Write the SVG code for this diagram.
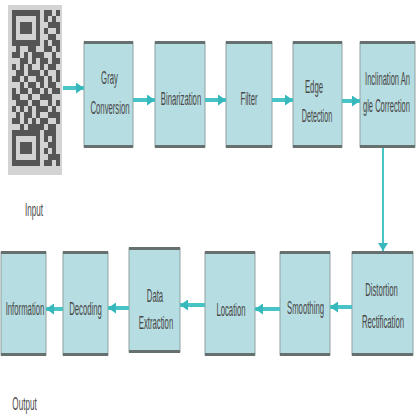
<svg xmlns="http://www.w3.org/2000/svg" width="416" height="416" viewBox="0 0 416 416">
<style>
.box{fill:#b6dde1;stroke:#8fa0a0;stroke-width:1}
.bar{fill:#66706f}
.t{font-family:"Liberation Sans",Arial,sans-serif;font-size:18px;fill:#474747;text-anchor:middle}
.arr{stroke:#48c4c7;stroke-width:4;fill:none;marker-end:url(#ah)}
.arrv{stroke:#48c4c7;stroke-width:2;fill:none;marker-end:url(#ahv)}
</style>
<defs>
<marker id="ah" markerUnits="userSpaceOnUse" markerWidth="8" markerHeight="11" refX="8" refY="5.5" orient="auto">
<path d="M0,0 L8,5.5 L0,11 z" fill="#36b8bc"/>
</marker>
<marker id="ahv" markerUnits="userSpaceOnUse" markerWidth="8" markerHeight="10" refX="8" refY="5" orient="auto">
<path d="M0,0 L8,5 L0,10 z" fill="#36b8bc"/>
</marker>
</defs>

<g id="input">
<rect x="8" y="5" width="54" height="170" fill="#d3d3d3"/>
<path fill="#2b2b2b" opacity="0.75" d="
M12 10h28v6h-28z M44 10h8v6h-8z M56 10h4v6h-4z
M12 16h4v6h-4z M36 16h4v6h-4z M44 16h4v6h-4z M52 16h4v6h-4z
M12 22h4v6h-4z M20 22h12v6h-12z M36 22h4v6h-4z M48 22h12v6h-12z
M12 28h4v6h-4z M20 28h12v6h-12z M36 28h4v6h-4z M44 28h4v6h-4z M56 28h4v6h-4z
M12 34h4v6h-4z M36 34h4v6h-4z M48 34h8v6h-8z
M12 40h28v6h-28z M44 40h4v6h-4z M52 40h8v6h-8z
M16 46h4v6h-4z M28 46h8v6h-8z M44 46h8v6h-8z M56 46h4v6h-4z
M12 52h8v6h-8z M24 52h4v6h-4z M32 52h12v6h-12z M52 52h4v6h-4z
M20 58h8v6h-8z M32 58h4v6h-4z M40 58h8v6h-8z M52 58h8v6h-8z
M12 64h4v6h-4z M20 64h4v6h-4z M28 64h4v6h-4z M40 64h4v6h-4z M48 64h8v6h-8z
M16 70h8v6h-8z M28 70h12v6h-12z M44 70h4v6h-4z M56 70h4v6h-4z
M12 76h8v6h-8z M24 76h4v6h-4z M36 76h8v6h-8z M48 76h4v6h-4z M56 76h4v6h-4z
M20 82h4v6h-4z M28 82h8v6h-8z M40 82h4v6h-4z M48 82h8v6h-8z
M12 88h4v6h-4z M20 88h8v6h-8z M32 88h8v6h-8z M44 88h4v6h-4z M52 88h8v6h-8z
M12 94h8v6h-8z M28 94h4v6h-4z M40 94h12v6h-12z
M16 100h12v6h-12z M32 100h8v6h-8z M48 100h4v6h-4z M56 100h4v6h-4z
M12 106h4v6h-4z M20 106h4v6h-4z M28 106h4v6h-4z M36 106h12v6h-12z M52 106h4v6h-4z
M16 112h4v6h-4z M24 112h8v6h-8z M36 112h4v6h-4z M48 112h12v6h-12z
M12 118h8v6h-8z M24 118h4v6h-4z M32 118h4v6h-4z M40 118h8v6h-8z M56 118h4v6h-4z
M20 124h4v6h-4z M28 124h16v6h-16z M48 124h8v6h-8z
M12 130h28v6h-28z M44 130h12v6h-12z
M12 136h4v6h-4z M36 136h4v6h-4z M44 136h4v6h-4z M52 136h4v6h-4z
M12 142h4v6h-4z M20 142h12v6h-12z M36 142h4v6h-4z M48 142h8v6h-8z
M12 148h4v6h-4z M20 148h12v6h-12z M36 148h4v6h-4z M44 148h4v6h-4z M52 148h4v6h-4z
M12 154h4v6h-4z M36 154h4v6h-4z M48 154h12v6h-12z
M12 160h28v6h-28z M44 160h8v6h-8z M56 160h4v6h-4z"/>
<text class="t" transform="translate(34,216) scale(0.45,1)">Input</text>
</g>

<g id="gray">
<rect class="box" x="84" y="42" width="49" height="105"/>
<rect class="bar" x="84" y="41" width="49" height="3"/><rect class="bar" x="84" y="145" width="49" height="3"/>
<text class="t" transform="translate(109.5,84) scale(0.43,1)">Gray</text>
<text class="t" transform="translate(110,114) scale(0.43,1)">Conversion</text>
</g>

<g id="binarization">
<rect class="box" x="155" y="42" width="50" height="105"/>
<rect class="bar" x="155" y="41" width="50" height="3"/><rect class="bar" x="155" y="145" width="50" height="3"/>
<text class="t" transform="translate(181,105) scale(0.43,1)">Binarization</text>
</g>

<g id="filter">
<rect class="box" x="226" y="42" width="46" height="105"/>
<rect class="bar" x="226" y="41" width="46" height="3"/><rect class="bar" x="226" y="145" width="46" height="3"/>
<text class="t" transform="translate(249,105) scale(0.43,1)">Filter</text>
</g>

<g id="edge">
<rect class="box" x="293" y="42" width="49" height="105"/>
<rect class="bar" x="293" y="41" width="49" height="3"/><rect class="bar" x="293" y="145" width="49" height="3"/>
<text class="t" transform="translate(314,93) scale(0.43,1)">Edge</text>
<text class="t" transform="translate(317,122) scale(0.4,1)">Detection</text>
</g>

<g id="inclination">
<rect class="box" x="360" y="42" width="55" height="105"/>
<rect class="bar" x="360" y="41" width="55" height="3"/><rect class="bar" x="360" y="145" width="55" height="3"/>
<text class="t" transform="translate(387.5,85) scale(0.42,1)">Inclination An</text>
<text class="t" transform="translate(386.5,112) scale(0.42,1)">gle Correction</text>
</g>

<g id="distortion">
<rect class="box" x="352" y="252" width="61" height="103"/>
<rect class="bar" x="352" y="251" width="61" height="3"/><rect class="bar" x="352" y="353" width="61" height="3"/>
<text class="t" transform="translate(381.5,296) scale(0.43,1)">Distortion</text>
<text class="t" transform="translate(383,328) scale(0.43,1)">Rectification</text>
</g>

<g id="smoothing">
<rect class="box" x="280" y="252" width="50" height="103"/>
<rect class="bar" x="280" y="251" width="50" height="3"/><rect class="bar" x="280" y="353" width="50" height="3"/>
<text class="t" transform="translate(305.5,314) scale(0.43,1)">Smoothing</text>
</g>

<g id="location">
<rect class="box" x="205" y="252" width="50" height="103"/>
<rect class="bar" x="205" y="251" width="50" height="3"/><rect class="bar" x="205" y="353" width="50" height="3"/>
<text class="t" transform="translate(231,316) scale(0.43,1)">Location</text>
</g>

<g id="data">
<rect class="box" x="129" y="248" width="51" height="104"/>
<rect class="bar" x="129" y="247" width="51" height="3"/><rect class="bar" x="129" y="350" width="51" height="3"/>
<text class="t" transform="translate(155,302) scale(0.43,1)">Data</text>
<text class="t" transform="translate(156,329) scale(0.43,1)">Extraction</text>
</g>

<g id="decoding">
<rect class="box" x="63" y="252" width="45" height="103"/>
<rect class="bar" x="63" y="251" width="45" height="3"/><rect class="bar" x="63" y="353" width="45" height="3"/>
<text class="t" transform="translate(85.5,315) scale(0.43,1)">Decoding</text>
</g>

<g id="information">
<rect class="box" x="1" y="252" width="45" height="103"/>
<rect class="bar" x="1" y="251" width="45" height="3"/><rect class="bar" x="1" y="353" width="45" height="3"/>
<text class="t" transform="translate(25,315) scale(0.43,1)">Information</text>
<text class="t" transform="translate(24.5,410) scale(0.45,1)">Output</text>
</g>

<g id="connectors">
<path class="arr" d="M63 88H84"/>
<path class="arr" d="M133 100H155"/>
<path class="arr" d="M205 100H226"/>
<path class="arr" d="M272 100H293"/>
<path class="arr" d="M342 101H360"/>
<path class="arrv" d="M383 148V251"/>
<path class="arr" d="M352 307H330"/>
<path class="arr" d="M280 309H255"/>
<path class="arr" d="M205 305H180"/>
<path class="arr" d="M129 308H108"/>
<path class="arr" d="M63 309H46"/>
</g>
</svg>
